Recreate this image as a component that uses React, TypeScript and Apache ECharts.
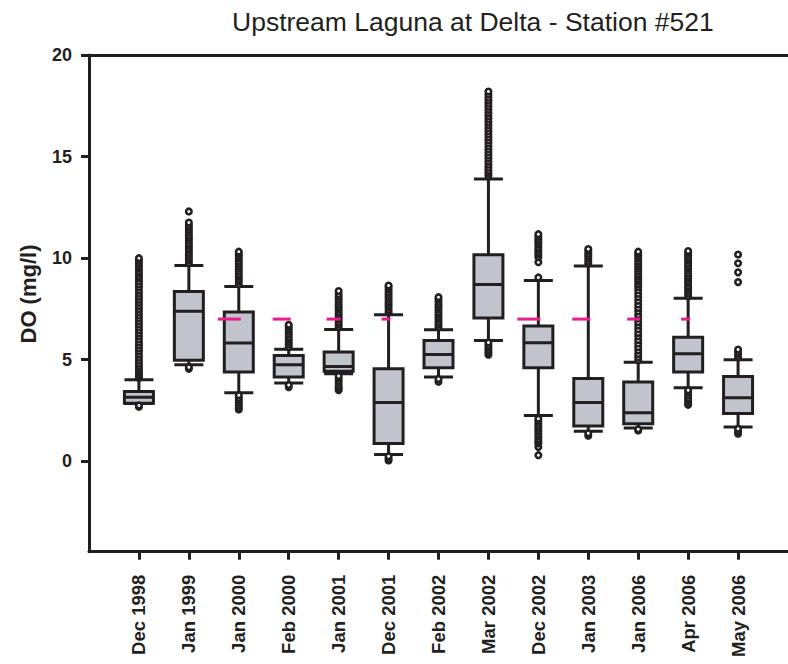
import { useEffect, useRef } from 'react';
import * as echarts from 'echarts';

const titleText = 'Upstream Laguna at Delta - Station #521';
const yAxisTitle = 'DO (mg/l)';

const categories = [
  'Dec 1998', 'Jan 1999', 'Jan 2000', 'Feb 2000', 'Jan 2001', 'Dec 2001', 'Feb 2002',
  'Mar 2002', 'Dec 2002', 'Jan 2003', 'Jan 2006', 'Apr 2006', 'May 2006',
];

// [lower whisker, Q1, median, Q3, upper whisker]
const boxStats = [
  [2.84, 2.86, 3.15, 3.44, 4.02],
  [4.75, 4.97, 7.38, 8.36, 9.64],
  [3.38, 4.39, 5.82, 7.35, 8.6],
  [3.85, 4.15, 4.75, 5.21, 5.51],
  [4.31, 4.43, 4.67, 5.38, 6.49],
  [0.34, 0.87, 2.89, 4.56, 7.21],
  [4.15, 4.61, 5.26, 5.95, 6.48],
  [5.95, 7.05, 8.7, 10.17, 13.9],
  [2.26, 4.61, 5.84, 6.66, 8.9],
  [1.48, 1.74, 2.89, 4.07, 9.61],
  [1.64, 1.85, 2.39, 3.9, 4.88],
  [3.62, 4.39, 5.3, 6.11, 8.03],
  [1.69, 2.35, 3.13, 4.18, 5.0],
];

const outliersDec1998 = [2.68, 2.75, 4.1, 4.18, 4.26, 4.35, 4.45, 4.55, 4.67, 4.8, 4.95, 5.1, 5.25, 5.4, 5.55, 5.7, 5.85, 6.0, 6.15, 6.3, 6.45, 6.6, 6.75, 6.9, 7.05, 7.2, 7.35, 7.5, 7.65, 7.8, 7.95, 8.1, 8.25, 8.4, 8.55, 8.7, 8.85, 9.0, 9.12, 9.25, 9.37, 9.5, 9.62, 9.75, 9.87, 10.0];
const outliersJan1999 = [4.55, 4.63, 9.75, 9.88, 10.0, 10.12, 10.25, 10.38, 10.5, 10.62, 10.75, 10.88, 11.0, 11.12, 11.25, 11.38, 11.5, 11.62, 11.75, 12.3];
const outliersJan2000 = [2.55, 2.64, 2.76, 2.88, 3.0, 3.12, 3.25, 8.72, 8.85, 8.98, 9.1, 9.22, 9.35, 9.48, 9.6, 9.72, 9.85, 9.98, 10.1, 10.22, 10.32];
const outliersFeb2000 = [3.65, 3.75, 5.62, 5.75, 5.88, 6.0, 6.12, 6.25, 6.38, 6.5, 6.62, 6.72];
const outliersJan2001 = [3.5, 3.58, 3.7, 3.82, 3.95, 4.08, 4.2, 6.6, 6.72, 6.85, 6.98, 7.1, 7.22, 7.35, 7.48, 7.6, 7.72, 7.85, 7.98, 8.1, 8.22, 8.38];
const outliersDec2001 = [0.04, 0.12, 0.25, 7.32, 7.45, 7.58, 7.7, 7.82, 7.95, 8.08, 8.2, 8.32, 8.45, 8.58, 8.65];
const outliersFeb2002 = [3.92, 4.05, 6.6, 6.72, 6.85, 6.98, 7.1, 7.22, 7.35, 7.48, 7.6, 7.72, 7.85, 7.98, 8.08];
const outliersMar2002 = [5.25, 5.36, 5.48, 5.6, 5.72, 5.85, 14.05, 14.18, 14.3, 14.45, 14.6, 14.75, 14.9, 15.05, 15.2, 15.35, 15.5, 15.65, 15.8, 15.95, 16.1, 16.25, 16.4, 16.55, 16.7, 16.85, 17.0, 17.15, 17.3, 17.45, 17.6, 17.75, 17.9, 18.05, 18.2];
const outliersDec2002 = [0.3, 0.7, 0.88, 0.98, 1.1, 1.22, 1.35, 1.48, 1.6, 1.72, 1.85, 1.98, 2.1, 9.05, 9.8, 10.05, 10.18, 10.3, 10.42, 10.55, 10.68, 10.8, 10.92, 11.05, 11.18];
const outliersJan2003 = [1.26, 1.38, 9.72, 9.85, 9.98, 10.1, 10.22, 10.35, 10.45];
const outliersJan2006 = [1.52, 1.58, 4.98, 5.12, 5.28, 5.45, 5.62, 5.8, 5.97, 6.15, 6.32, 6.5, 6.68, 6.85, 7.03, 7.2, 7.38, 7.55, 7.72, 7.9, 8.08, 8.25, 8.42, 8.58, 8.72, 8.85, 8.98, 9.1, 9.22, 9.35, 9.48, 9.6, 9.72, 9.85, 9.98, 10.1, 10.22, 10.32];
const outliersApr2006 = [2.78, 2.88, 3.0, 3.12, 3.25, 3.38, 3.5, 8.12, 8.25, 8.38, 8.5, 8.62, 8.75, 8.88, 9.0, 9.12, 9.25, 9.38, 9.5, 9.62, 9.75, 9.88, 10.0, 10.12, 10.25, 10.35];
const outliersMay2006 = [1.36, 1.48, 1.6, 5.12, 5.25, 5.38, 5.5, 8.82, 9.3, 9.75, 10.18];

const outliers = [
  outliersDec1998, outliersJan1999, outliersJan2000, outliersFeb2000, outliersJan2001,
  outliersDec2001, outliersFeb2002, outliersMar2002, outliersDec2002, outliersJan2003,
  outliersJan2006, outliersApr2006, outliersMay2006,
];

const yTicks = [0, 5, 10, 15, 20];
const yMin = -4.45;
const yMax = 20;

const standardValue = 7;
const standardCategories = ['Jan 2000', 'Feb 2000', 'Jan 2001', 'Dec 2001', 'Dec 2002', 'Jan 2003', 'Jan 2006', 'Apr 2006'];
// visual length (px) of each standard marker
const standardMarkLengths = [21, 16, 12, 7, 21, 16, 11, 7];

export default function App() {
  const ref = useRef<HTMLDivElement>(null);

  useEffect(() => {
    if (!ref.current) return;
    const chart = echarts.init(ref.current, null, { renderer: 'svg' });
    const ink = '#231f20';
    const font = '"Liberation Sans", Arial, Helvetica, sans-serif';
    const axisCats = ['', ...categories, ''];
    const last = axisCats.length - 1;

    const boxData = boxStats.map((b, i) => [i + 1, ...b]);
    const outlierData: number[][] = [];
    outliers.forEach((list, i) => list.forEach((v) => outlierData.push([i + 1, v])));
    const stdData = standardCategories.map((c, k) => [categories.indexOf(c) + 1, standardValue, standardMarkLengths[k]]);

    chart.setOption({
      animation: false,
      title: {
        text: titleText,
        left: 227,
        top: 3,
        textStyle: { fontFamily: font, fontSize: 26.5, fontWeight: 'normal', color: ink },
      },
      grid: { left: 89, top: 55, right: -9.3, bottom: 112.3, containLabel: false },
      xAxis: [
        {
          type: 'category',
          data: axisCats,
          boundaryGap: false,
          axisLine: { show: true, onZero: false, lineStyle: { color: ink, width: 3 } },
          axisTick: {
            show: true,
            length: 8,
            interval: (i: number) => i > 0 && i < last,
            lineStyle: { color: ink, width: 3 },
          },
          axisLabel: {
            interval: 0,
            rotate: 90,
            margin: 23,
            fontFamily: font,
            fontSize: 18.5,
            fontWeight: 'bold',
            color: ink,
          },
          splitLine: { show: false },
        },
        {
          type: 'value',
          position: 'top',
          axisLine: { show: true, onZero: false, lineStyle: { color: ink, width: 3 } },
          axisTick: { show: false },
          axisLabel: { show: false },
          splitLine: { show: false },
        },
      ],
      yAxis: {
        type: 'value',
        min: yMin,
        max: yMax,
        axisLine: { show: true, onZero: false, lineStyle: { color: ink, width: 3 } },
        axisTick: { show: true, length: 8, customValues: yTicks, lineStyle: { color: ink, width: 3 } },
        axisLabel: {
          customValues: yTicks,
          margin: 17,
          fontFamily: font,
          fontSize: 18,
          fontWeight: 'bold',
          color: ink,
        },
        splitLine: { show: false },
      },
      graphic: [
        {
          type: 'text',
          x: 28,
          y: 294,
          rotation: Math.PI / 2,
          style: {
            text: yAxisTitle,
            fontFamily: font,
            fontSize: 22,
            fontWeight: 'bold',
            fill: ink,
            align: 'center',
            verticalAlign: 'middle',
          },
        },
      ],
      series: [
        {
          type: 'boxplot',
          data: boxData,
          encode: { x: 0, y: [1, 2, 3, 4, 5] },
          boxWidth: [29, 29],
          itemStyle: { color: '#c1c4cc', borderColor: ink, borderWidth: 3 },
          z: 2,
        },
        {
          type: 'scatter',
          data: outlierData,
          symbol: 'circle',
          symbolSize: 5.5,
          itemStyle: { color: '#ffffff', borderColor: ink, borderWidth: 2.6, opacity: 1 },
          z: 3,
        },
        {
          type: 'custom',
          data: stdData,
          encode: { x: 0, y: 1 },
          renderItem: (_params: any, api: any) => {
            const p = api.coord([api.value(0), api.value(1)]);
            const len = api.value(2);
            return {
              type: 'line',
              shape: { x1: p[0] - len, y1: p[1], x2: p[0] + 2, y2: p[1] },
              style: { stroke: '#ec1c8c', lineWidth: 3 },
            };
          },
          z: 4,
        },
      ],
    });

    return () => chart.dispose();
  }, []);

  return (
    <div
      ref={ref}
      style={{ position: 'absolute', left: 0, top: 0, width: 788, height: 664, background: '#fff' }}
    />
  );
}
